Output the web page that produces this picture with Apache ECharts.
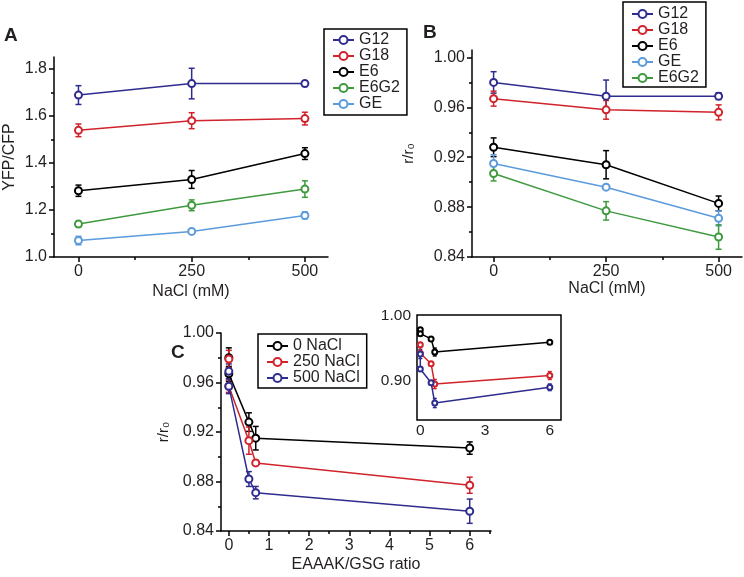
<!DOCTYPE html>
<html><head><meta charset="utf-8">
<script src="https://cdn.jsdelivr.net/npm/echarts@6/dist/echarts.min.js"></script>
<style>html,body{margin:0;padding:0;background:#fff}#c{width:744px;height:577px}</style>
</head><body><div id="c"></div>
<script>
// ---------- DATA ----------
const nacl = [0, 250, 500];
const ratio = [0, 0, 0.5, 0.67, 6];

// Panel A: YFP/CFP
const A_G12 = [1.689, 1.738, 1.738];   const A_G12_err = [0.040, 0.065, 0.012];
const A_G18 = [1.539, 1.580, 1.589];   const A_G18_err = [0.027, 0.034, 0.027];
const A_E6 = [1.282, 1.330, 1.440];    const A_E6_err = [0.024, 0.038, 0.025];
const A_E6G2 = [1.140, 1.220, 1.289];  const A_E6G2_err = [0.012, 0.023, 0.035];
const A_GE = [1.070, 1.109, 1.177];    const A_GE_err = [0.018, 0.006, 0.015];

// Panel B: r/r0
const B_G12 = [0.980, 0.969, 0.969];   const B_G12_err = [0.0086, 0.0129, 0.0027];
const B_G18 = [0.967, 0.958, 0.956];   const B_G18_err = [0.006, 0.0075, 0.006];
const B_E6 = [0.928, 0.914, 0.883];    const B_E6_err = [0.0075, 0.0113, 0.0059];
const B_GE = [0.915, 0.896, 0.871];    const B_GE_err = [0.007, 0.0015, 0.006];
const B_E6G2 = [0.907, 0.877, 0.856];  const B_E6G2_err = [0.006, 0.0074, 0.0098];

// Panel C main
const C_0 = [0.980, 0.967, 0.928, 0.915, 0.907];   const C_0_err = [0.008, 0.006, 0.0075, 0.0095, 0.005];
const C_250 = [0.979, 0.957, 0.913, 0.895, 0.877]; const C_250_err = [0.007, 0.005, 0.011, 0.002, 0.0065];
const C_500 = [0.969, 0.957, 0.882, 0.871, 0.856]; const C_500_err = [0.006, 0.006, 0.006, 0.005, 0.0098];

// Panel C inset
const I_0 = [0.978, 0.972, 0.964, 0.944, 0.959];   const I_0_err = [0.003, 0.002, 0.002, 0.006, 0.003];
const I_250 = [0.955, 0.942, 0.926, 0.895, 0.908]; const I_250_err = [0.003, 0.002, 0.002, 0.007, 0.006];
const I_500 = [0.941, 0.918, 0.897, 0.866, 0.890]; const I_500_err = [0.007, 0.003, 0.002, 0.007, 0.005];

// Tick values
const A_xMajor = [0, 250, 500], A_xMinor = [125, 375];
const A_yMajor = [1.0, 1.2, 1.4, 1.6, 1.8], A_yMinor = [1.1, 1.3, 1.5, 1.7];
const B_yMajor = [0.84, 0.88, 0.92, 0.96, 1.00], B_yMinor = [0.86, 0.90, 0.94, 0.98];
const C_xMajor = [0, 1, 2, 3, 4, 5, 6], C_xMinor = [0.5, 1.5, 2.5, 3.5, 4.5, 5.5, 6.5];
const I_xMajor = [0, 3, 6], I_yMajor = [0.90, 1.00];

// ---------- STYLE ----------
const FONT = "'Liberation Sans', Arial, sans-serif";
const TXT = '#231f20';
const COL = { G12: '#2e2d8f', G18: '#d0232b', E6: '#000000', E6G2: '#3f9a3f', GE: '#5b9bdc' };
const FS = 16;

const chart = echarts.init(document.getElementById('c'));

function pairs(xs, ys) { return xs.map((x, i) => [x, ys[i]]); }
function triples(xs, ys, es) { return xs.map((x, i) => [x, ys[i], es[i]]); }

const xAxes = [], yAxes = [];
function addAxes(g, o) {
  const lineS = { color: '#000', width: 1.5 };
  const xi = xAxes.length, yi = yAxes.length;
  const fs = o.fs || FS;
  xAxes.push({
    type: 'value', gridIndex: g, min: o.xmin, max: o.xmax, position: 'bottom', offset: 0,
    axisLine: { show: o.axisLine !== false, onZero: false, lineStyle: lineS },
    axisTick: o.xMajor && o.ticks !== false ? { show: true, length: 5, customValues: o.xMajor, lineStyle: lineS } : { show: false },
    axisLabel: { show: true, customValues: o.xMajor, fontSize: fs, fontFamily: FONT, color: TXT, margin: o.xMargin || 7,
      showMinLabel: true, showMaxLabel: true, hideOverlap: false, formatter: v => String(v) },
    splitLine: { show: false },
    name: o.xName || '', nameLocation: 'middle', nameGap: o.xNameGap || 26,
    nameTextStyle: { fontSize: FS, fontFamily: FONT, color: TXT }
  });
  if (o.xMinor) xAxes.push({
    type: 'value', gridIndex: g, min: o.xmin, max: o.xmax, position: 'bottom', offset: 0,
    axisLine: { show: false, onZero: false }, axisLabel: { show: false }, splitLine: { show: false },
    axisTick: { show: true, length: 3, customValues: o.xMinor, lineStyle: lineS }
  });
  yAxes.push({
    type: 'value', gridIndex: g, min: o.ymin, max: o.ymax, position: 'left', offset: 0,
    axisLine: { show: o.axisLine !== false, onZero: false, lineStyle: lineS },
    axisTick: o.ticks !== false ? { show: true, length: 5, customValues: o.yMajor, lineStyle: lineS } : { show: false },
    axisLabel: { show: true, customValues: o.yMajor, fontSize: fs, fontFamily: FONT, color: TXT, margin: o.yMargin || 7,
      showMinLabel: true, showMaxLabel: true, hideOverlap: false, formatter: v => v.toFixed(o.dec) },
    splitLine: { show: false },
    name: o.yName || '', nameLocation: 'middle', nameGap: o.yNameGap || 40,
    nameTextStyle: { fontSize: o.yNameSize || FS, fontFamily: FONT, color: TXT }
  });
  if (o.yMinor) yAxes.push({
    type: 'value', gridIndex: g, min: o.ymin, max: o.ymax, position: 'left', offset: 0,
    axisLine: { show: false, onZero: false }, axisLabel: { show: false }, splitLine: { show: false },
    axisTick: { show: true, length: 3, customValues: o.yMinor, lineStyle: lineS }
  });
  return { xi, yi };
}

const grids = [
  { left: 54, top: 57, width: 274, height: 200 },
  { left: 472, top: 50, width: 270, height: 207 },
  { left: 221, top: 333, width: 270, height: 198 },
  { left: 417, top: 315, width: 144, height: 105, show: true, borderColor: '#000', borderWidth: 1.5, backgroundColor: '#fff', z: 5 }
];

const axA = addAxes(0, { xmin: -54, xmax: 551, xMajor: A_xMajor, xMinor: A_xMinor, ymin: 1.0, ymax: 1.851,
  yMajor: A_yMajor, yMinor: A_yMinor, dec: 1, xName: 'NaCl (mM)', yName: 'YFP/CFP', yNameGap: 36, xNameGap: 27 });
const axB = addAxes(1, { xmin: -48, xmax: 552, xMajor: A_xMajor, xMinor: A_xMinor, ymin: 0.84, ymax: 1.006,
  yMajor: B_yMajor, yMinor: B_yMinor, dec: 2, xName: 'NaCl (mM)', yName: 'r/r₀', yNameGap: 56, xNameGap: 22, yNameSize: 15 });
const axC = addAxes(2, { xmin: -0.195, xmax: 6.53, xMajor: C_xMajor, xMinor: C_xMinor, ymin: 0.84, ymax: 1.00,
  yMajor: B_yMajor, yMinor: B_yMinor, dec: 2, xName: 'EAAAK/GSG ratio', yName: 'r/r₀', yNameGap: 50, xNameGap: 26, yNameSize: 15 });
const axI = addAxes(3, { xmin: -0.153, xmax: 6.52, xMajor: I_xMajor, ymin: 0.84, ymax: 1.0005,
  yMajor: I_yMajor, dec: 2, axisLine: false, ticks: false, xMargin: 3, yMargin: 6, fs: 15.5 });

const series = [];
function addSeries(ax, name, xs, ys, es, color, opts) {
  opts = opts || {};
  const cap = opts.cap || 3;
  const lw = opts.lw || 1.5;
  const zb = opts.zb || 0;
  series.push({
    type: 'custom', xAxisIndex: ax.xi, yAxisIndex: ax.yi, silent: true, z: 2 + zb,
    data: triples(xs, ys, es),
    encode: { x: 0, y: 1 },
    renderItem: function (params, api) {
      const x = api.value(0), y = api.value(1), e = api.value(2);
      const t = api.coord([x, y + e]), b = api.coord([x, y - e]);
      const st = { stroke: color, lineWidth: lw };
      return { type: 'group', children: [
        { type: 'line', shape: { x1: t[0], y1: t[1], x2: b[0], y2: b[1] }, style: st },
        { type: 'line', shape: { x1: t[0] - cap, y1: t[1], x2: t[0] + cap, y2: t[1] }, style: st },
        { type: 'line', shape: { x1: b[0] - cap, y1: b[1], x2: b[0] + cap, y2: b[1] }, style: st }
      ]};
    }
  });
  series.push({
    type: 'line', name: name, xAxisIndex: ax.xi, yAxisIndex: ax.yi, z: 3 + zb,
    data: pairs(xs, ys),
    symbol: 'emptyCircle', symbolSize: opts.sym || 7, showSymbol: true,
    lineStyle: { color: color, width: lw },
    itemStyle: { color: color, borderColor: color, borderWidth: lw },
    emphasis: { disabled: true }, animation: false
  });
}

// Panel A
addSeries(axA, 'G12', nacl, A_G12, A_G12_err, COL.G12);
addSeries(axA, 'G18', nacl, A_G18, A_G18_err, COL.G18);
addSeries(axA, 'E6', nacl, A_E6, A_E6_err, COL.E6);
addSeries(axA, 'E6G2', nacl, A_E6G2, A_E6G2_err, COL.E6G2);
addSeries(axA, 'GE', nacl, A_GE, A_GE_err, COL.GE);
// Panel B
addSeries(axB, 'G12', nacl, B_G12, B_G12_err, COL.G12);
addSeries(axB, 'G18', nacl, B_G18, B_G18_err, COL.G18);
addSeries(axB, 'E6', nacl, B_E6, B_E6_err, COL.E6);
addSeries(axB, 'GE', nacl, B_GE, B_GE_err, COL.GE);
addSeries(axB, 'E6G2', nacl, B_E6G2, B_E6G2_err, COL.E6G2);
// Panel C
addSeries(axC, '0 NaCl', ratio, C_0, C_0_err, COL.E6);
addSeries(axC, '250 NaCl', ratio, C_250, C_250_err, COL.G18);
addSeries(axC, '500 NaCl', ratio, C_500, C_500_err, COL.G12);
// Inset
addSeries(axI, 'i0', ratio, I_0, I_0_err, COL.E6, { sym: 5, cap: 2, zb: 10 });
addSeries(axI, 'i250', ratio, I_250, I_250_err, COL.G18, { sym: 5, cap: 2, zb: 10 });
addSeries(axI, 'i500', ratio, I_500, I_500_err, COL.G12, { sym: 5, cap: 2, zb: 10 });

const legendBase = {
  orient: 'vertical', itemWidth: 21, itemHeight: 10, itemGap: 0,
  borderColor: '#000', borderWidth: 1.5, backgroundColor: '#fff',
  selectedMode: false
};
function lt(lh) { return { fontSize: 16, fontFamily: FONT, color: TXT, lineHeight: lh }; }

const option = {
  animation: false,
  grid: grids,
  xAxis: xAxes,
  yAxis: yAxes,
  legend: [
    Object.assign({}, legendBase, { left: 324, top: 29, padding: [3, 7, 3, 8], textStyle: lt(15.5), data: ['G12', 'G18', 'E6', 'E6G2', 'GE'] }),
    Object.assign({}, legendBase, { left: 623, top: 2, padding: [4, 7, 1, 8], textStyle: lt(13.8), data: ['G12', 'G18', 'E6', 'GE', 'E6G2'] }),
    Object.assign({}, legendBase, { left: 258, top: 334, padding: [4, 7, 2, 8], textStyle: lt(14.5), data: ['0 NaCl', '250 NaCl', '500 NaCl'] })
  ],
  graphic: [
    { type: 'text', left: 4, top: 26, style: { text: 'A', font: "bold 19px " + FONT, fill: TXT } },
    { type: 'text', left: 423, top: 23, style: { text: 'B', font: "bold 19px " + FONT, fill: TXT } },
    { type: 'text', left: 171, top: 343, style: { text: 'C', font: "bold 19px " + FONT, fill: TXT } }
  ],
  series: series
};
chart.setOption(option);
</script></body></html>
